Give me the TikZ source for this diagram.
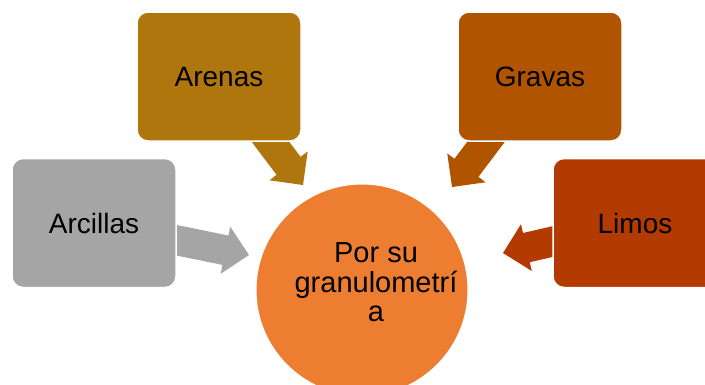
\documentclass[tikz,border=0pt]{standalone}
\usepackage{fontspec}
\setmainfont{Liberation Sans}
\definecolor{cArc}{HTML}{A5A5A5}
\definecolor{cAre}{HTML}{AF760E}
\definecolor{cGra}{HTML}{B05400}
\definecolor{cLim}{HTML}{B33A00}
\definecolor{cCir}{HTML}{ED7D31}
\newcommand\blkarr[4]{% colour, tip, canvas angle, length
  \fill[#1, shift={(#2)}, rotate=#3] (0,0) -- (-24,24) -- (-24,15) -- (-#4,15)
    -- (-#4,-15) -- (-24,-15) -- (-24,-24) -- cycle;}
\tikzset{
  box/.style={rounded corners=11pt, draw=white, line width=1.5pt,
    minimum width=164pt, minimum height=129pt, inner sep=0pt,
    font=\fontsize{28}{32}\selectfont, text=black},
  circ/.style={circle, fill=cCir, draw=white, line width=1pt, minimum size=212pt, inner sep=0pt},
  ctext/.style={anchor=base, font=\fontsize{29}{29.5}\selectfont, text=black, inner sep=0pt}
}
\begin{document}
\begin{tikzpicture}[x=1pt,y=-1pt]
\useasboundingbox (0,0) rectangle (705,384);
\clip (0,0) rectangle (705,384);
% arrow tips
\coordinate (tArc) at (249,255);
\coordinate (tAre) at (303,185);
\coordinate (tGra) at (452,187);
\coordinate (tLim) at (503,253);
\blkarr{cArc}{tArc}{-11.5}{86}
\blkarr{cAre}{tAre}{-53}{70}
\blkarr{cGra}{tGra}{-127}{70}
\blkarr{cLim}{tLim}{-167}{63}
% boxes
\node[box, fill=cArc] (arc) at (94,223) {Arcillas};
\node[box, fill=cAre] (are) at (219,76.5) {Arenas};
\node[box, fill=cGra] (gra) at (540,76.5) {Gravas};
\node[box, fill=cLim] (lim) at (635,223) {Limos};
% centre
\node[circ] (c) at (362,290) {};
\node[ctext] (ct) at (376,262) {\begin{tabular}[t]{@{}c@{}}Por su\\granulometrí\\a\end{tabular}};
\end{tikzpicture}
\end{document}
